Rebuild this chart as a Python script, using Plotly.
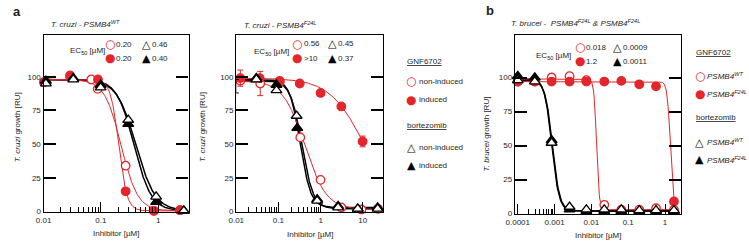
import numpy as np
import plotly.graph_objects as go

W, H = 749, 251
RED = "#e3262b"
BLK = "#000000"
TXT = "#1e1e1e"
FONT = "Liberation Sans, Arial, sans-serif"
GLYPH = "DejaVu Sans"

# ---------------- data ----------------
# panel a-left: T. cruzi PSMB4 WT
a1_gnf_non_x = [0.0102, 0.029, 0.068, 0.088, 0.27, 0.84, 2.4]
a1_gnf_non_y = [96, 100, 98, 91, 34, 0.5, 1]
a1_gnf_ind_x = [0.0102, 0.029, 0.089, 0.27, 0.84, 2.4]
a1_gnf_ind_y = [96, 101, 98, 15, 0.5, 1]
a1_btz_non_x = [0.011, 0.033, 0.099, 0.30, 0.92, 2.8]
a1_btz_non_y = [95, 98, 92, 68, 11, 0.5]
a1_btz_ind_x = [0.011, 0.033, 0.099, 0.30, 0.92, 2.8]
a1_btz_ind_y = [97, 99, 94, 65, 7, 0.5]

# panel a-right: T. cruzi PSMB4 F24L
a2_gnf_non_x = [0.0125, 0.037, 0.107, 0.33, 1.0, 3.1, 9.3, 23]
a2_gnf_non_y = [97, 95, 96, 55, 23.5, 3, 1.5, 2]
a2_gnf_non_e = [0, 9, 0, 0, 0, 0, 0, 0]
a2_gnf_ind_x = [0.0125, 0.036, 0.107, 0.32, 1.0, 3.1, 9.9]
a2_gnf_ind_y = [99, 99, 97, 95, 88, 78, 52]
a2_gnf_ind_e = [6, 0, 0, 0, 0, 0, 4]
a2_btz_non_x = [0.0098, 0.030, 0.09, 0.27, 0.83, 2.6, 7.6, 22.5]
a2_btz_non_y = [93, 98, 90, 71, 8, 3, 2, 2]
a2_btz_non_e = [5, 0, 0, 0, 0, 0, 0, 0]
a2_btz_ind_x = [0.0098, 0.030, 0.09, 0.28, 0.83, 2.6, 7.6, 22.5]
a2_btz_ind_y = [96, 99, 94, 62, 9, 4, 2, 3]

# panel b: T. brucei
b_x = [0.0001, 0.00029, 0.00083, 0.00255, 0.0073, 0.0224, 0.065, 0.2, 0.57, 1.75]
b_gnf_wt_y = [97, 97, 100, 101, 98, 6.5, 3, 3, 4, 3]
b_gnf_mut_y = [97, 97, 97, 97, 97, 97, 97.5, 95, 93.5, 9]
b_btz_wt_y = [98, 97, 52, 5, 3, 3, 3, 2.5, 2.5, 2.5]
b_btz_mut_y = [101, 100, 54, 3, 2, 2, 2, 2, 2, 2]

# fitted dose-response curve parameters: top, bottom, EC50, hill, x-start, x-end
a1_fit = {
    "gnf_non": [98, 0.5, 0.225, 3.0, 0.01, 2.5],
    "gnf_ind": [98, 0.5, 0.205, 6.0, 0.01, 2.5],
    "btz_non": [98, 0.5, 0.41, 2.6, 0.01, 2.8],
    "btz_ind": [98, 0.5, 0.38, 2.9, 0.01, 2.8],
}
a2_fit = {
    "gnf_non": [97, 1.5, 0.42, 1.7, 0.01, 23],
    "gnf_ind": [99, 0.0, 11.0, 1.05, 0.01, 9.9],
    "btz_non": [97, 2.0, 0.36, 3.2, 0.01, 22.5],
    "btz_ind": [98, 3.0, 0.33, 3.5, 0.01, 22.5],
}
b_fit = {
    "gnf_wt": [99, 3.0, 0.0138, 12, 0.0001, 1.75],
    "gnf_mut": [97, 2.0, 1.4, 10, 0.0001, 1.75],
    "btz_wt": [98, 2.0, 0.00087, 4.4, 0.0001, 1.75],
    "btz_mut": [99, 2.0, 0.00084, 4.4, 0.0001, 1.75],
}

# EC50 labels
a1_ec50 = ["0.20", "0.20", "0.46", "0.40"]
a2_ec50 = ["0.56", ">10", "0.45", "0.37"]
b_ec50 = ["0.018", "1.2", "0.0009", "0.0011"]

x_ticks_a1 = [0.01, 0.1, 1]
x_ticks_a2 = [0.01, 0.1, 1, 10]
x_ticks_b = [0.0001, 0.001, 0.01, 0.1, 1]
x_ticktext_a1 = ["0.01", "0.1", "1"]
x_ticktext_a2 = ["0.01", "0.1", "1", "10"]
x_ticktext_b = ["0.0001", "0.001", "0.01", "0.1", "1"]
minor_a = [0.02, 0.03, 0.04, 0.05, 0.06, 0.07, 0.08, 0.09,
           0.2, 0.3, 0.4, 0.5, 0.6, 0.7, 0.8, 0.9]
minor_b = [0.0002, 0.0003, 0.0004, 0.0005, 0.0006, 0.0007, 0.0008, 0.0009]
y_ticks = [0, 25, 50, 75, 100]


def hill(p):
    top, bot, ec, h, x0, x1 = p
    xs = np.logspace(np.log10(x0), np.log10(x1), 300)
    return xs, bot + (top - bot) / (1 + (xs / ec) ** h)


fig = go.Figure()


def curve(p, color, width, xa, ya):
    xs, ys = hill(p)
    fig.add_trace(go.Scatter(x=xs, y=ys, mode="lines", line=dict(color=color, width=width),
                             xaxis=xa, yaxis=ya, showlegend=False, hoverinfo="skip"))


CIR = 8.5
TRI = 9.5


def pts(x, y, symbol, fill, edge, xa, ya, err=None, size=CIR):
    fig.add_trace(go.Scatter(
        x=x, y=y, mode="markers", xaxis=xa, yaxis=ya, showlegend=False, cliponaxis=False,
        marker=dict(symbol=symbol, size=size, color=fill, line=dict(color=edge, width=1.3)),
        error_y=(dict(type="data", array=err, visible=True, color=edge, thickness=1, width=3)
                 if err is not None else None)))


# panel a-left
curve(a1_fit["btz_non"], BLK, 1.5, "x", "y")
curve(a1_fit["btz_ind"], BLK, 1.5, "x", "y")
curve(a1_fit["gnf_non"], RED, 1.0, "x", "y")
curve(a1_fit["gnf_ind"], RED, 1.0, "x", "y")
pts(a1_gnf_non_x, a1_gnf_non_y, "circle", "white", RED, "x", "y")
pts(a1_gnf_ind_x, a1_gnf_ind_y, "circle", RED, RED, "x", "y")
pts(a1_btz_ind_x, a1_btz_ind_y, "triangle-up", BLK, BLK, "x", "y", size=TRI)
pts(a1_btz_non_x, a1_btz_non_y, "triangle-up", "white", BLK, "x", "y", size=TRI)

# panel a-right
curve(a2_fit["btz_non"], BLK, 1.5, "x2", "y2")
curve(a2_fit["btz_ind"], BLK, 1.5, "x2", "y2")
curve(a2_fit["gnf_non"], RED, 1.0, "x2", "y2")
curve(a2_fit["gnf_ind"], RED, 1.0, "x2", "y2")
pts(a2_gnf_non_x, a2_gnf_non_y, "circle", "white", RED, "x2", "y2", err=a2_gnf_non_e)
pts(a2_gnf_ind_x, a2_gnf_ind_y, "circle", RED, RED, "x2", "y2", err=a2_gnf_ind_e)
pts(a2_btz_ind_x, a2_btz_ind_y, "triangle-up", BLK, BLK, "x2", "y2", size=TRI)
pts(a2_btz_non_x, a2_btz_non_y, "triangle-up", "white", BLK, "x2", "y2", err=a2_btz_non_e, size=TRI)

# panel b
curve(b_fit["btz_wt"], BLK, 1.5, "x3", "y3")
curve(b_fit["btz_mut"], BLK, 1.5, "x3", "y3")
curve(b_fit["gnf_wt"], RED, 1.0, "x3", "y3")
curve(b_fit["gnf_mut"], RED, 1.0, "x3", "y3")
pts(b_x, b_gnf_wt_y, "circle", "white", RED, "x3", "y3")
pts(b_x, b_gnf_mut_y, "circle", RED, RED, "x3", "y3")
pts(b_x, b_btz_mut_y, "triangle-up", BLK, BLK, "x3", "y3", size=TRI)
pts(b_x, b_btz_wt_y, "triangle-up", "white", BLK, "x3", "y3", size=TRI)


def xax(dom, rng, tv, tt, minor, anchor):
    return dict(domain=dom, type="log", range=rng, anchor=anchor,
                showline=True, linecolor=BLK, linewidth=1.3, mirror=True,
                ticks="inside", ticklen=10, tickwidth=1, tickcolor=BLK,
                tickvals=tv, ticktext=tt, showgrid=False, zeroline=False,
                tickfont=dict(size=8, family=FONT, color=TXT),
                minor=dict(tickvals=minor, ticks="inside", ticklen=5, tickwidth=1,
                           tickcolor=BLK, showgrid=False))


def yax(dom, rng, anchor):
    return dict(domain=dom, range=rng, anchor=anchor, showline=True, linecolor=BLK,
                linewidth=1.3, mirror="ticks", ticks="inside", ticklen=12, tickwidth=1.6,
                tickcolor=BLK, tickvals=y_ticks, showgrid=False, zeroline=False,
                tickfont=dict(size=8, family=FONT, color=TXT))


def px(v):
    return v / W


def py(v):
    return 1 - v / H


fig.update_layout(
    width=W, height=H, margin=dict(l=0, r=0, t=0, b=0),
    paper_bgcolor="white", plot_bgcolor="white", showlegend=False,
    font=dict(family=FONT, size=8, color=TXT),
    xaxis=xax([px(35), px(181.7)], [-2, 0.529], x_ticks_a1, x_ticktext_a1, minor_a, "y"),
    yaxis=yax([py(216.7), py(36)], [-0.65, 130.8], "x"),
    xaxis2=xax([px(230), px(379)], [-2, 1.49], x_ticks_a2, x_ticktext_a2, minor_a, "y2"),
    yaxis2=yax([py(216.7), py(36)], [-0.65, 130.8], "x2"),
    xaxis3=xax([px(512), px(680)], [-4.08, 0.43], x_ticks_b, x_ticktext_b, minor_b, "y3"),
    yaxis3=yax([py(218.3), py(36)], [-0.2, 131], "x3"),
)

anns = []


def ann(text, x, y, size=8, xanchor="center", color=TXT, family=FONT, angle=0):
    anns.append(dict(text=text, x=px(x), y=py(y), xref="paper", yref="paper",
                     showarrow=False, xanchor=xanchor, yanchor="middle", textangle=angle,
                     borderpad=0, font=dict(size=size, color=color, family=family)))


# panel letters
ann("<b>a</b>", 8.5, 12, size=13)
ann("<b>b</b>", 487, 11, size=13)

# titles
ann("<i>T. cruzi - PSMB4<sup>WT</sup></i>", 41, 24, xanchor="left")
ann("<i>T. cruzi - PSMB4<sup>F24L</sup></i>", 237, 25, xanchor="left")
ann("<i>T. brucei -  PSMB4<sup>F24L</sup> &amp; PSMB4<sup>F24L</sup></i>", 507, 23, xanchor="left")

# y titles
ann("<i>T. cruzi</i> growth [RU]", 9, 130, angle=-90)
ann("<i>T. cruzi</i> growth [RU]", 196, 130, angle=-90)
ann("<i>T. brucei</i> growth [RU]", 483, 137, angle=-90)

# x titles
ann("Inhibitor [µM]", 108, 238)
ann("Inhibitor [µM]", 305, 239)
ann("Inhibitor [µM]", 596, 240)


def ec_block(cx_label, y_label, xc, xt, y1, y2, vals):
    ann("EC<sub>50</sub> [µM]", cx_label, y_label)
    ann("○", xc, y1, size=12, color=RED, family=GLYPH)
    ann("●", xc, y2, size=12, color=RED, family=GLYPH)
    ann("△", xt, y1, size=11, color=BLK, family=GLYPH)
    ann("▲", xt, y2, size=11, color=BLK, family=GLYPH)
    ann(vals[0], xc + 5.5, y1, xanchor="left")
    ann(vals[1], xc + 5.5, y2, xanchor="left")
    ann(vals[2], xt + 4.5, y1, xanchor="left")
    ann(vals[3], xt + 4.5, y2, xanchor="left")


ec_block(79, 52, 102, 139, 45, 59.5, a1_ec50)
ec_block(265.5, 53, 292, 327, 44.5, 59.5, a2_ec50)
ec_block(551.5, 57, 578, 616, 48, 62.5, b_ec50)


def legend_block(x0, ys, labels):
    ann("<u>GNF6702</u>", x0, ys[0], xanchor="left")
    ann("○", x0 + 5, ys[1], size=12, color=RED, family=GLYPH)
    ann("●", x0 + 5, ys[2], size=12, color=RED, family=GLYPH)
    ann("<u>bortezomib</u>", x0, ys[3], xanchor="left")
    ann("△", x0 + 5, ys[4], size=11, color=BLK, family=GLYPH)
    ann("▲", x0 + 5, ys[5], size=11, color=BLK, family=GLYPH)
    ann(labels[0], x0 + 11.5, ys[1], xanchor="left")
    ann(labels[1], x0 + 11.5, ys[2], xanchor="left")
    ann(labels[0], x0 + 11.5, ys[4], xanchor="left")
    ann(labels[1], x0 + 11.5, ys[5], xanchor="left")


legend_block(402, [63, 83, 102, 128, 150, 169], ["non-induced", "induced"])
legend_block(694, [54, 78, 96, 120, 145, 163],
             ["<i>PSMB4<sup>WT</sup></i>", "<i>PSMB4<sup>F24L</sup></i>"])

fig.update_layout(annotations=anns)
fig.write_html("out.html", config={"displayModeBar": False},
               post_script="document.body.style.margin='0';document.body.style.overflow='hidden';")
